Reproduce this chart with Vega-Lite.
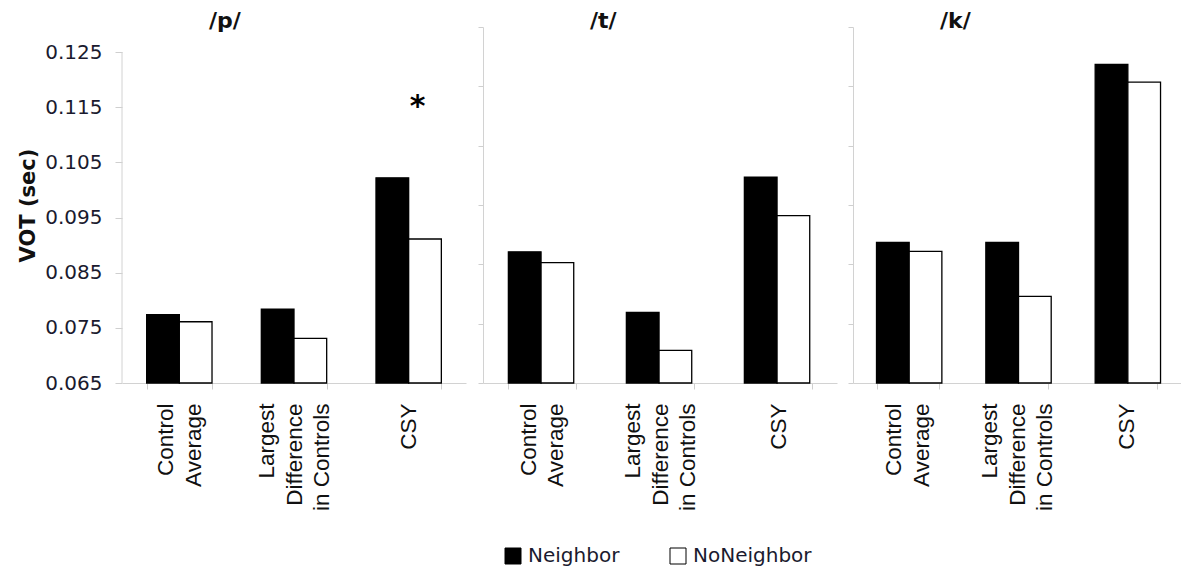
{
  "$schema": "https://vega.github.io/schema/vega-lite/v6.json",
  "background": "white",
  "padding": {"left": 17, "top": 9, "right": 0, "bottom": 0},
  "config": {
    "font": "DejaVu Sans",
    "view": {"stroke": null},
    "axis": {"domainColor": "#d2d2d2", "tickColor": "#cfcfcf", "grid": false, "labelColor": "#1a1a2e", "titleColor": "#111111"},
    "axisX": {"title": null, "labelAngle": -90, "tickBand": "extent", "tickSize": 6, "labelPadding": 14,
      "labelFont": "Liberation Sans", "labelFontSize": 22.5, "labelLineHeight": 27.5, "labelColor": "#111111",
      "labelOffset": {"condition": [{"test": "datum.value == 'Control Average'", "value": -13.75}, {"test": "datum.value == 'Largest Difference in Controls'", "value": -27.5}], "value": 0},
      "labelExpr": "datum.value == 'Control Average' ? ['Control', 'Average'] : datum.value == 'CSY' ? 'CSY' : datum.value == 'Largest Difference in Controls' ? ['Largest', 'Difference', 'in Controls'] : ''"},
    "title": {"font": "DejaVu Sans", "fontSize": 22, "fontWeight": "bold", "anchor": "start", "frame": "group", "offset": -6, "color": "#111111"}
  },
  "datasets": {
    "vot": [
      {"phoneme": "/p/", "category": "Control Average", "group": "Neighbor", "vot": 0.0774},
      {"phoneme": "/p/", "category": "Control Average", "group": "NoNeighbor", "vot": 0.0761},
      {"phoneme": "/p/", "category": "Largest Difference in Controls", "group": "Neighbor", "vot": 0.0784},
      {"phoneme": "/p/", "category": "Largest Difference in Controls", "group": "NoNeighbor", "vot": 0.0731},
      {"phoneme": "/p/", "category": "CSY", "group": "Neighbor", "vot": 0.1022},
      {"phoneme": "/p/", "category": "CSY", "group": "NoNeighbor", "vot": 0.0911},
      {"phoneme": "/t/", "category": "Control Average", "group": "Neighbor", "vot": 0.0871},
      {"phoneme": "/t/", "category": "Control Average", "group": "NoNeighbor", "vot": 0.0853},
      {"phoneme": "/t/", "category": "Largest Difference in Controls", "group": "Neighbor", "vot": 0.0769},
      {"phoneme": "/t/", "category": "Largest Difference in Controls", "group": "NoNeighbor", "vot": 0.0705},
      {"phoneme": "/t/", "category": "CSY", "group": "Neighbor", "vot": 0.0997},
      {"phoneme": "/t/", "category": "CSY", "group": "NoNeighbor", "vot": 0.0932},
      {"phoneme": "/k/", "category": "Control Average", "group": "Neighbor", "vot": 0.0887},
      {"phoneme": "/k/", "category": "Control Average", "group": "NoNeighbor", "vot": 0.0872},
      {"phoneme": "/k/", "category": "Largest Difference in Controls", "group": "Neighbor", "vot": 0.0887},
      {"phoneme": "/k/", "category": "Largest Difference in Controls", "group": "NoNeighbor", "vot": 0.0796},
      {"phoneme": "/k/", "category": "CSY", "group": "Neighbor", "vot": 0.1187},
      {"phoneme": "/k/", "category": "CSY", "group": "NoNeighbor", "vot": 0.1157}
    ],
    "significance": [
      {"phoneme": "/p/", "category": "CSY", "vot": 0.115, "note": "*"}
    ],
    "pAxisSpan": [
      {"position": 0, "from": 0.065, "to": 0.125}
    ]
  },
  "data": {"name": "vot"},
  "spacing": 5,
  "hconcat": [
    {
      "spacing": 6,
      "hconcat": [
        {
          "width": 344,
          "height": 356,
          "title": {"text": "/p/", "dx": 87},
          "transform": [{"filter": "datum.phoneme == '/p/'"}],
          "resolve": {"scale": {"x": "independent"}, "axis": {"x": "independent"}},
          "layer": [
            {
              "layer": [
                {
                  "mark": {"type": "bar", "stroke": "#000000", "strokeWidth": 1.3},
                  "encoding": {
                    "x": {"field": "category", "type": "nominal", "sort": ["Control Average", "Largest Difference in Controls", "CSY"],
                      "scale": {"paddingInner": 0.43, "paddingOuter": 0.215}},
                    "xOffset": {"field": "group", "type": "nominal", "sort": ["Neighbor", "NoNeighbor"], "scale": {"paddingInner": 0, "paddingOuter": 0}},
                    "y": {"field": "vot", "type": "quantitative", "stack": null,
                      "scale": {"domain": [0.065, 0.129532], "zero": false, "nice": false},
                      "axis": {"values": [0.065, 0.075, 0.085, 0.095, 0.105, 0.115, 0.125], "format": ".3f", "title": "VOT (sec)", "domain": false,
                        "titleFontSize": 21, "titleFontWeight": "bold", "labelFontSize": 20, "tickSize": 7, "labelPadding": 13, "titlePadding": 6}},
                    "y2": {"datum": 0.065},
                    "fill": {"field": "group", "type": "nominal", "scale": {"domain": ["Neighbor", "NoNeighbor"], "range": ["#000000", "#ffffff"]},
                      "legend": {"title": null, "orient": "none", "legendX": 381, "legendY": 519, "direction": "horizontal",
                        "symbolType": "square", "symbolSize": 256, "symbolStrokeColor": "#c8c8c8", "symbolStrokeWidth": 1,
                        "labelFontSize": 20, "labelColor": "#1a1a2e", "labelOffset": 5, "columnPadding": 48, "padding": 0}}
                  }
                },
                {
                  "data": {"name": "significance"},
                  "mark": {"type": "text", "fontSize": 30, "fontWeight": "bold", "dx": 9, "baseline": "middle", "color": "#000000"},
                  "encoding": {
                    "x": {"field": "category", "type": "nominal", "sort": ["Control Average", "Largest Difference in Controls", "CSY"]},
                    "y": {"field": "vot", "type": "quantitative"},
                    "text": {"field": "note"}
                  }
                }
              ]
            },
            {
              "data": {"name": "pAxisSpan"},
              "mark": {"type": "rule", "color": "#d2d2d2", "strokeWidth": 1},
              "encoding": {
                "x": {"field": "position", "type": "quantitative", "scale": {"domain": [0, 1]}, "axis": null},
                "y": {"field": "from", "type": "quantitative"},
                "y2": {"field": "to"}
              }
            }
          ]
        },
        {
          "width": 354,
          "height": 356,
          "title": {"text": "/t/", "dx": 107},
          "transform": [{"filter": "datum.phoneme == '/t/'"}],
          "mark": {"type": "bar", "stroke": "#000000", "strokeWidth": 1.3},
          "encoding": {
            "x": {"field": "category", "type": "nominal", "sort": ["Control Average", "Largest Difference in Controls", "CSY"],
              "scale": {"paddingInner": 0.43, "paddingOuter": 0.215}},
            "xOffset": {"field": "group", "type": "nominal", "sort": ["Neighbor", "NoNeighbor"], "scale": {"paddingInner": 0, "paddingOuter": 0}},
            "y": {"field": "vot", "type": "quantitative", "stack": null,
              "scale": {"domain": [0.065, 0.125], "zero": false, "nice": false},
              "axis": {"values": [0.065, 0.075, 0.085, 0.095, 0.105, 0.115, 0.125], "labels": false, "title": null, "tickSize": 5}},
            "y2": {"datum": 0.065},
            "fill": {"field": "group", "type": "nominal"}
          }
        }
      ]
    },
    {
      "width": 328,
      "height": 356,
      "title": {"text": "/k/", "dx": 87},
      "transform": [{"filter": "datum.phoneme == '/k/'"}],
      "mark": {"type": "bar", "stroke": "#000000", "strokeWidth": 1.3},
      "encoding": {
        "x": {"field": "category", "type": "nominal", "sort": ["Control Average", "Largest Difference in Controls", "CSY"],
          "scale": {"paddingInner": 0.43, "paddingOuter": 0.215}},
        "xOffset": {"field": "group", "type": "nominal", "sort": ["Neighbor", "NoNeighbor"], "scale": {"paddingInner": 0, "paddingOuter": 0}},
        "y": {"field": "vot", "type": "quantitative", "stack": null,
          "scale": {"domain": [0.065, 0.125], "zero": false, "nice": false},
          "axis": {"values": [0.065, 0.075, 0.085, 0.095, 0.105, 0.115, 0.125], "labels": false, "title": null, "tickSize": 5}},
        "y2": {"datum": 0.065},
        "fill": {"field": "group", "type": "nominal"}
      }
    }
  ]
}
